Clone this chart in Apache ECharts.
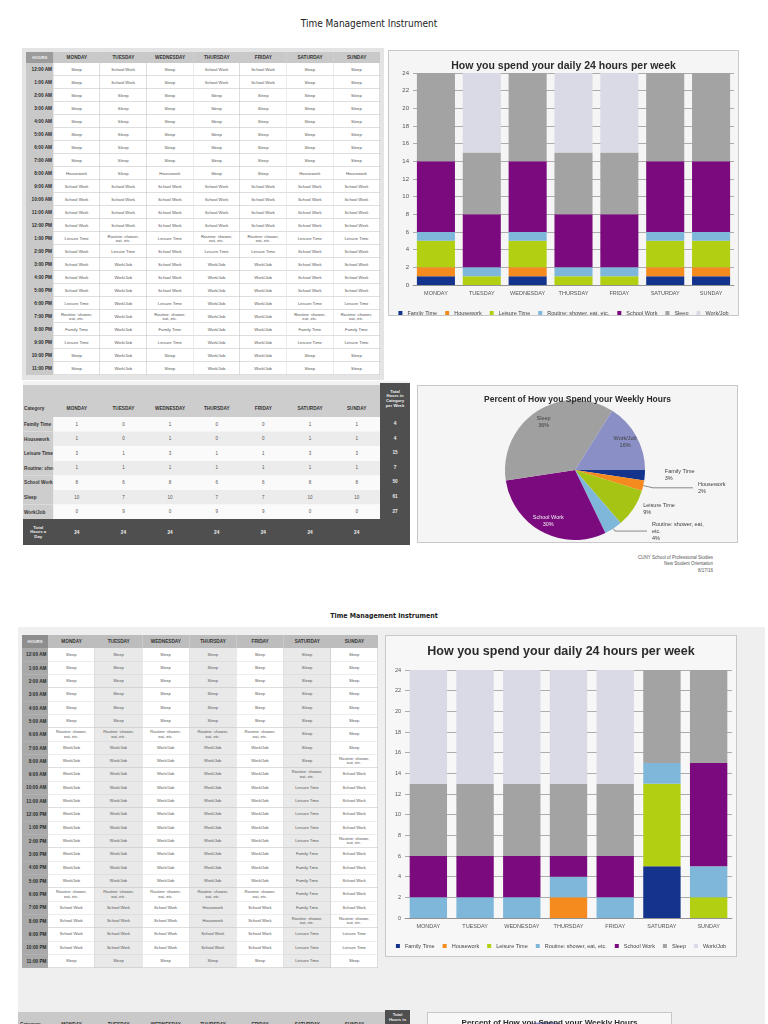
<!DOCTYPE html>
<html><head><meta charset="utf-8">
<script src="https://cdn.jsdelivr.net/npm/echarts@6/dist/echarts.min.js"></script>
<style>
html,body{margin:0;padding:0;width:768px;height:1024px;overflow:hidden;background:#fff;font-family:"Liberation Sans",Arial,sans-serif;}
#doc{position:absolute;left:0;top:0;width:1536px;height:2048px;transform:scale(0.5);transform-origin:0 0;}
.c{position:absolute;box-sizing:border-box;display:flex;align-items:center;justify-content:center;text-align:center;overflow:hidden;white-space:nowrap;line-height:1.05;}
.chart{position:absolute;box-sizing:border-box;}
</style></head>
<body>
<div id="doc"></div>
<div id="bar1" class="chart" style="left:388px;top:50px;width:351px;height:266px;background:#f5f5f5;border:1px solid #c8c8c8;"></div>
<div id="pie1" class="chart" style="left:417px;top:385px;width:321px;height:158px;background:#f5f5f5;border:1px solid #c8c8c8;"></div>
<div id="bar2" class="chart" style="left:385px;top:635px;width:352px;height:322px;background:#f7f7f7;border:1px solid #c8c8c8;"></div>
<div id="pie2" class="chart" style="left:427px;top:1012px;width:245px;height:170px;background:#f7f7f7;border:1px solid #c8c8c8;"></div>
<script>
// ---------------- data ----------------
const days = ['MONDAY','TUESDAY','WEDNESDAY','THURSDAY','FRIDAY','SATURDAY','SUNDAY'];
const hours = ['12:00 AM','1:00 AM','2:00 AM','3:00 AM','4:00 AM','5:00 AM','6:00 AM','7:00 AM','8:00 AM','9:00 AM','10:00 AM','11:00 AM',
               '12:00 PM','1:00 PM','2:00 PM','3:00 PM','4:00 PM','5:00 PM','6:00 PM','7:00 PM','8:00 PM','9:00 PM','10:00 PM','11:00 PM'];
const categories = ['Family Time','Housework','Leisure Time','Routine: shower, eat, etc.','School Work','Sleep','Work/Job'];
const activity = {F:'Family Time',H:'Housework',L:'Leisure Time',R:'Routine: shower, eat, etc.',W:'School Work',S:'Sleep',J:'Work/Job'};

// week 1 schedule (hour by hour, 12 AM .. 11 PM)
const w1Mon = ['S','S','S','S','S','S','S','S','H','W','W','W','W','L','W','W','W','W','L','R','F','L','S','S'];
const w1Tue = ['W','W','S','S','S','S','S','S','S','W','W','W','W','R','L','J','J','J','J','J','J','J','J','J'];
const w1Wed = ['S','S','S','S','S','S','S','S','H','W','W','W','W','L','W','W','W','W','L','R','F','L','S','S'];
const w1Thu = ['W','W','S','S','S','S','S','S','S','W','W','W','W','R','L','J','J','J','J','J','J','J','J','J'];
const w1Fri = ['W','W','S','S','S','S','S','S','S','W','W','W','W','R','L','J','J','J','J','J','J','J','J','J'];
const w1Sat = ['S','S','S','S','S','S','S','S','H','W','W','W','W','L','W','W','W','W','L','R','F','L','S','S'];
const w1Sun = ['S','S','S','S','S','S','S','S','H','W','W','W','W','L','W','W','W','W','L','R','F','L','S','S'];

// week 1 daily hours per category
const w1Family    = [1,0,1,0,0,1,1];
const w1Housework = [1,0,1,0,0,1,1];
const w1Leisure   = [3,1,3,1,1,3,3];
const w1Routine   = [1,1,1,1,1,1,1];
const w1School    = [8,6,8,6,6,8,8];
const w1Sleep     = [10,7,10,7,7,10,10];
const w1Work      = [0,9,0,9,9,0,0];
const w1DayTotals = [24,24,24,24,24,24,24];
const w1WeekTotals = [4,4,15,7,50,61,27];

// week 2 schedule
const w2Mon = ['S','S','S','S','S','S','R','J','J','J','J','J','J','J','J','J','J','J','R','W','W','W','W','S'];
const w2Tue = ['S','S','S','S','S','S','R','J','J','J','J','J','J','J','J','J','J','J','R','W','W','W','W','S'];
const w2Wed = ['S','S','S','S','S','S','R','J','J','J','J','J','J','J','J','J','J','J','R','W','W','W','W','S'];
const w2Thu = ['S','S','S','S','S','S','R','J','J','J','J','J','J','J','J','J','J','J','R','H','H','W','W','S'];
const w2Fri = ['S','S','S','S','S','S','R','J','J','J','J','J','J','J','J','J','J','J','R','W','W','W','W','S'];
const w2Sat = ['S','S','S','S','S','S','S','S','S','R','L','L','L','L','L','F','F','F','F','F','R','L','L','L'];
const w2Sun = ['S','S','S','S','S','S','S','S','R','W','W','W','W','W','R','W','W','W','W','W','R','L','L','S'];

// week 2 daily hours per category
const w2Family    = [0,0,0,0,0,5,0];
const w2Housework = [0,0,0,2,0,0,0];
const w2Leisure   = [0,0,0,0,0,8,2];
const w2Routine   = [2,2,2,2,2,2,3];
const w2School    = [4,4,4,2,4,0,10];
const w2Sleep     = [7,7,7,7,7,9,9];
const w2Work      = [11,11,11,11,11,0,0];
const w2WeekTotals = [5,2,10,15,32,53,55];

const barColors = ['#13338c','#f58a1f','#b3cf12','#7fb7da','#7b0a7e','#a3a3a3','#d9dae5'];
const pieColors = ['#13338c','#f58a1f','#a6c414','#7fb7da','#7b0a7e','#a0a0a0','#8a8fc5'];

// ---------------- html document parts (drawn at 2x then scaled) ----------------
const doc = document.getElementById('doc');
function el(x,y,w,h,css,html){
  const d = document.createElement('div');
  d.className = 'c';
  d.style.cssText = `left:${x*2}px;top:${y*2}px;width:${w*2}px;height:${h*2}px;` + (css||'');
  if (html != null) d.innerHTML = html;
  doc.appendChild(d);
  return d;
}
const fs = p => `font-size:${(p*2).toFixed(2)}px;`;
const NARROW = '"Liberation Sans Narrow","DejaVu Sans Condensed","Liberation Sans",sans-serif';
const bd = c => `border-right:1.5px solid ${c};border-bottom:1.5px solid ${c};`;
const cellText = code => activity[code].replace('shower, ', 'shower,<br>');

function scheduleTable(sched, g){
  el(g.x0, g.y0, g.hourW, g.headH, `background:${g.hoursHeadBg};color:#f0f0f0;font-weight:bold;`+fs(4.2), 'HOURS');
  days.forEach((d,j)=> el(g.x0+g.hourW+j*g.dayW, g.y0, g.dayW, g.headH,
      `background:${g.headBg};color:#333;font-weight:bold;`+fs(4.7), d));
  hours.forEach((h,i)=>{
    const y = g.y0 + g.headH + i*g.rowH;
    el(g.x0, y, g.hourW, g.rowH, `background:${g.hourBg};color:#2a2a2a;font-weight:bold;justify-content:flex-end;padding-right:2px;`+fs(4.7)+bd(g.hourBg), h);
    sched.forEach((col,j)=>{
      el(g.x0+g.hourW+j*g.dayW, y, g.dayW, g.rowH,
        `background:${g.cellBg[j]};color:#555;`+fs(g.cellFs)+bd('#bdbdbd'), cellText(col[i]));
    });
  });
}

// ---- page 1 ----
el(269,16,200,14,`color:#222;font-family:${NARROW};`+fs(10), 'Time Management Instrument');
el(22,48,362,332,'background:#e4e4e4;');
scheduleTable([w1Mon,w1Tue,w1Wed,w1Thu,w1Fri,w1Sat,w1Sun], {
  x0:26, y0:52, hourW:27.5, dayW:46.64, headH:11, rowH:13,
  hoursHeadBg:'#9b9b9b', headBg:'#c9c9c9', hourBg:'#c9c9c9',
  cellBg:['#fff','#fff','#fff','#fff','#fff','#fff','#fff'], cellFs:4.2
});

// summary table page 1
(function(){
  const x0=23, catW=30.5, dayW=46.64, y0=385, headH=32, rowH=14.6, totH=26;
  const dayX = j => x0+catW+j*dayW;
  el(x0, y0-4, 387, 4, 'background:#f2f2f2;');
  el(x0, y0, catW+7*dayW, headH, 'background:#cdcdcd;');
  el(x0+1, y0+18, catW, 10, 'color:#333;font-weight:bold;justify-content:flex-start;'+fs(4.7), 'Category');
  days.forEach((d,j)=> el(dayX(j), y0+18, dayW, 10, 'color:#333;font-weight:bold;'+fs(4.7), d));
  const vals = [w1Family,w1Housework,w1Leisure,w1Routine,w1School,w1Sleep,w1Work];
  categories.forEach((c,i)=>{
    const y = y0+headH+i*rowH;
    el(x0, y, catW, rowH, 'background:#cdcdcd;color:#333;font-weight:bold;justify-content:flex-start;padding-left:2px;'+fs(4.7), c);
    el(dayX(0), y, 7*dayW, rowH, `background:${i%2? '#ececec':'#fafafa'};`);
    vals[i].forEach((v,j)=> el(dayX(j), y, dayW, rowH, 'color:#555;'+fs(4.5), String(v)));
  });
  const ty = y0+headH+7*rowH;
  el(x0, ty, 387, totH, 'background:#4f4f4f;');
  el(x0, ty, catW, totH, 'color:#eee;font-weight:bold;white-space:normal;line-height:1.15;'+fs(4.3), 'Total<br>Hours a<br>Day');
  w1DayTotals.forEach((v,j)=> el(dayX(j), ty, dayW, totH, 'color:#eee;font-weight:bold;'+fs(4.7), String(v)));
  const dx = x0+catW+7*dayW;
  el(dx, y0-2, 410-dx, ty-y0+2, 'background:#4f4f4f;');
  el(dx, y0, 410-dx, 27, 'color:#eee;font-weight:bold;line-height:1.15;'+fs(4.2), 'Total<br>Hours in<br>Category<br>per Week');
  w1WeekTotals.forEach((v,i)=> el(dx, y0+headH+i*rowH-1, 410-dx, rowH, 'color:#eee;font-weight:bold;'+fs(4.7), String(v)));
})();

el(560,553,153,22,'flex-direction:column;align-items:flex-end;color:#555;line-height:1.5;'+fs(4.5),
   '<div>CUNY School of Professional Studies</div><div>New Student Orientation</div><div>8/17/16</div>');

// ---- page 2 ----
el(284,609,200,12,`color:#222;font-weight:bold;font-family:${NARROW};`+fs(7), 'Time Management Instrument');
el(18,627,747,397,'background:#efefef;');
scheduleTable([w2Mon,w2Tue,w2Wed,w2Thu,w2Fri,w2Sat,w2Sun], {
  x0:22, y0:635, hourW:26, dayW:47.14, headH:13, rowH:13.33,
  hoursHeadBg:'#8e8e8e', headBg:'#bdbdbd', hourBg:'#a9a9a9',
  cellBg:['#fff','#e9e9e9','#fff','#e9e9e9','#fff','#e9e9e9','#fff'], cellFs:4.1
});
// summary table page 2 (top edge only visible)
(function(){
  const x0=18, y0=1012;
  el(x0, y0, 367, 20, 'background:#c9c9c9;');
  el(x0+2, y0+7, 30, 10, 'color:#333;font-weight:bold;justify-content:flex-start;'+fs(4.7), 'Category');
  days.forEach((d,j)=> el(48+j*47.14, y0+7, 47.14, 10, 'color:#333;font-weight:bold;'+fs(4.7), d));
  el(385, y0-2, 25, 20, 'background:#4f4f4f;');
  el(385, y0, 25, 14, 'color:#eee;font-weight:bold;line-height:1.15;align-items:flex-start;'+fs(4.2), 'Total<br>Hours in');
})();

// ---------------- charts ----------------
const FONT = 'Liberation Sans';
function barOption(vals, cfg){
  return {
    animation:false,
    title:{text:'How you spend your daily 24 hours per week', left:'center', top:cfg.titleTop,
      textStyle:{fontSize:cfg.titleSize, fontWeight:'bold', color:'#2b2b2b', fontFamily:FONT}},
    grid:{left:cfg.left, right:cfg.right, top:cfg.top, bottom:cfg.bottom},
    legend:{top:cfg.legendTop, left:'center', itemWidth:4, itemHeight:4, itemGap:8, icon:'rect',
      textStyle:{fontSize:5.5, color:'#444', fontFamily:FONT}, data:categories},
    xAxis:{type:'category', data:days, axisLine:{lineStyle:{color:'#8c8c8c', width:0.8}}, axisTick:{show:false},
      axisLabel:{fontSize:5.5, color:'#555', margin:cfg.xMargin, interval:0, fontFamily:FONT}},
    yAxis:{type:'value', min:0, max:24, interval:2, axisLine:{show:false}, axisTick:{show:false},
      axisLabel:{fontSize:cfg.ySize, color:'#555', margin:4, fontFamily:FONT},
      splitLine:{lineStyle:{color:'#8c8c8c', width:0.7}}},
    series: categories.map((c,i)=>({name:c, type:'bar', stack:'day', data:vals[i],
      itemStyle:{color:barColors[i]}, barCategoryGap:cfg.gap}))
  };
}
// per-slice label placement (outside labels)
const pieOutside = {
  'Family Time':               {len:3, len2:12, line:false},
  'Housework':                 {len:10, len2:40, line:true},
  'Leisure Time':              {len:2, len2:3, line:false},
  'Routine: shower, eat, etc.':{len:3, len2:32, line:true, width:58}
};
function pieOption(totals, cfg){
  const inside = ['Sleep','Work/Job','School Work'];
  return {
    animation:false,
    title:{text:'Percent of How you Spend your Weekly Hours', left:'center', top:cfg.titleTop,
      textStyle:{fontSize:cfg.titleSize, fontWeight:'bold', color:'#2b2b2b', fontFamily:FONT}},
    series:[{
      type:'pie', center:cfg.center, radius:cfg.r, startAngle:0, clockwise:true, avoidLabelOverlap:false,
      percentPrecision:0, labelLayout:{hideOverlap:false},
      label:{fontSize:5.5, color:'#404040', fontFamily:FONT, formatter:'{b}\n{d}%', lineHeight:7},
      labelLine:{lineStyle:{color:'#404040', width:0.6}},
      data: categories.map((c,i)=>{
        const o = pieOutside[c];
        const item = {name:c, value:totals[i], itemStyle:{color:pieColors[i]}};
        if (o) {
          item.label = {show:true};
          if (o.width) { item.label.width = o.width; item.label.overflow = 'break'; }
          item.labelLine = {show:true, length:o.len, length2:o.len2,
            lineStyle:{color:'#404040', width:0.6, opacity:o.line ? 1 : 0}};
        } else {
          item.label = {show:false};
          item.labelLine = {show:false};
        }
        return item;
      })
    },{
      type:'pie', center:cfg.center, radius:cfg.r*1.55, startAngle:0, clockwise:true, silent:true,
      percentPrecision:0, z:5, labelLayout:{hideOverlap:false},
      label:{position:'inside', fontSize:5.5, fontFamily:FONT, formatter:'{b}\n{d}%', lineHeight:7},
      data: categories.map((c,i)=>({name:c, value:totals[i], itemStyle:{color:'rgba(0,0,0,0)'},
        label:{show: inside.includes(c), color: c==='School Work' ? '#f2f2f2' : '#404040'}}))
    }]
  };
}

echarts.init(document.getElementById('bar1')).setOption(barOption(
  [w1Family,w1Housework,w1Leisure,w1Routine,w1School,w1Sleep,w1Work],
  {titleTop:5, titleSize:10.5, left:24, right:4, top:22, bottom:30, legendTop:254, xMargin:5, ySize:6, gap:'17%'}));
echarts.init(document.getElementById('bar2')).setOption(barOption(
  [w2Family,w2Housework,w2Leisure,w2Routine,w2School,w2Sleep,w2Work],
  {titleTop:4, titleSize:12.5, left:19, right:4, top:34, bottom:38, legendTop:302, xMargin:5, ySize:5.5, gap:'20%'}));
echarts.init(document.getElementById('pie1')).setOption(pieOption(w1WeekTotals,
  {titleTop:4, titleSize:8.5, center:[157,84], r:70}));
echarts.init(document.getElementById('pie2')).setOption(pieOption(w2WeekTotals,
  {titleTop:1, titleSize:8, center:[118,79], r:70}));
</script>
</body></html>
